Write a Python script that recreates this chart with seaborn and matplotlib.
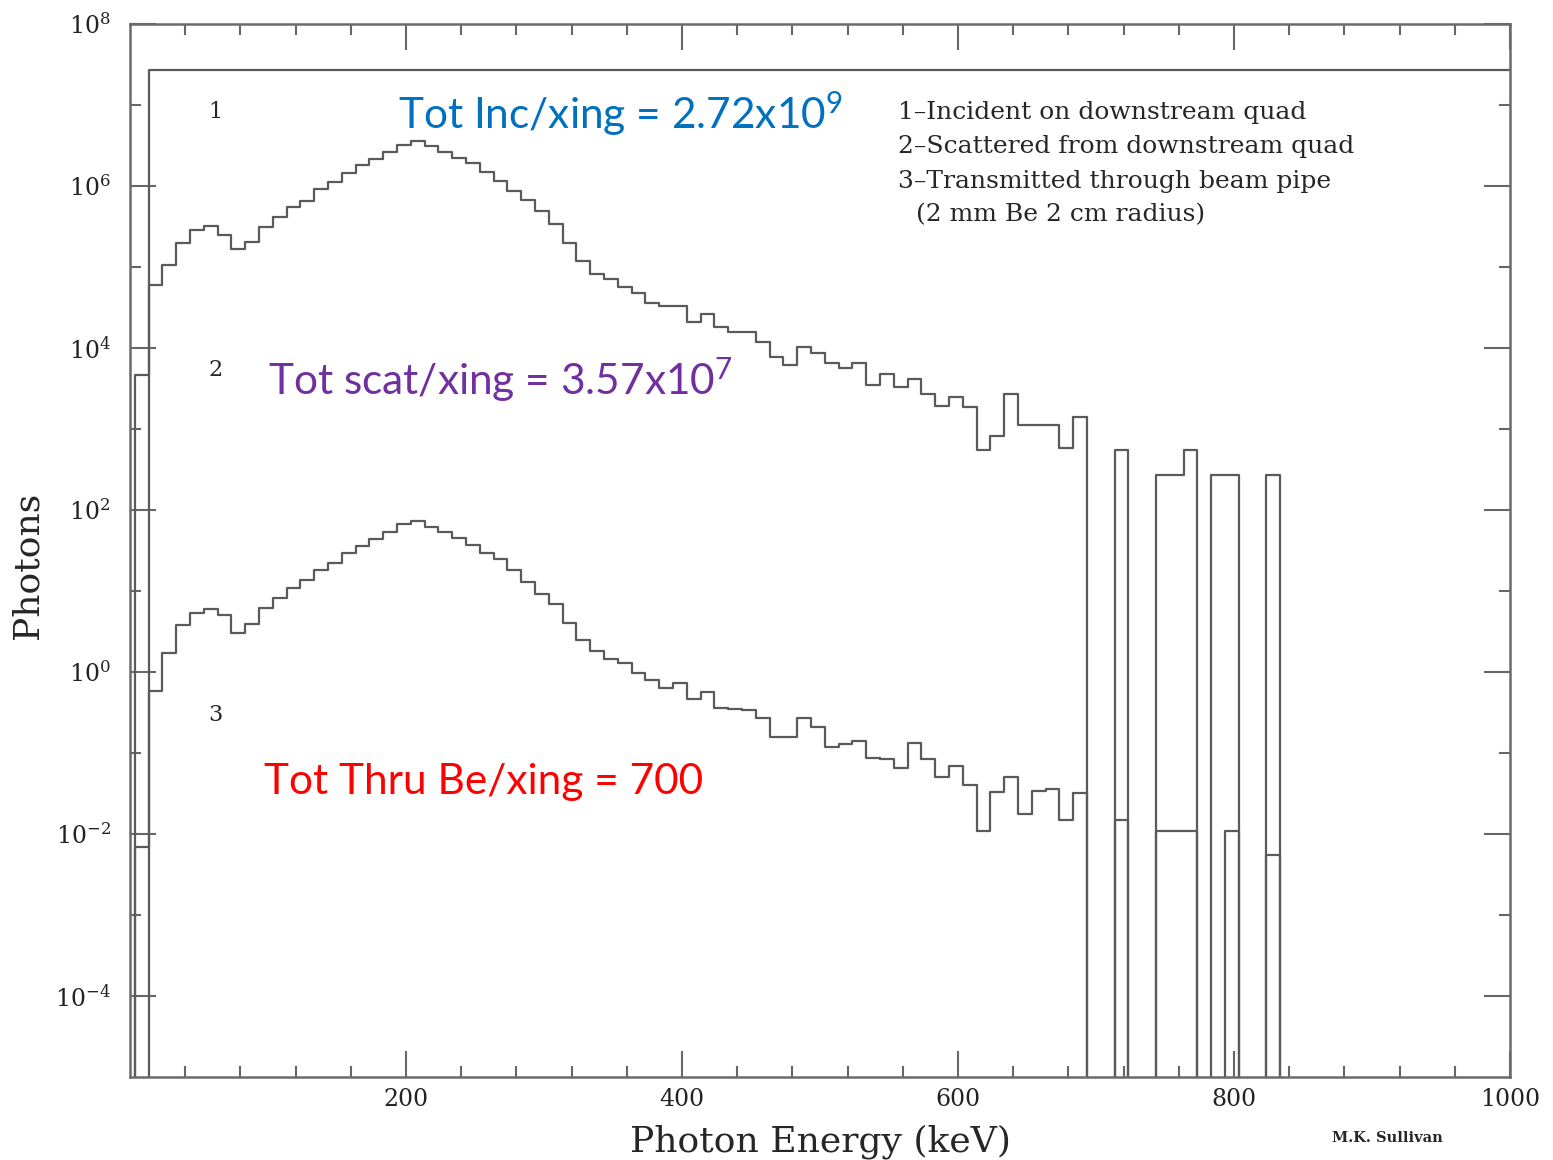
import numpy as np
import pandas as pd
import matplotlib.pyplot as plt
import seaborn as sns
from matplotlib.ticker import FixedLocator, NullFormatter, LogFormatterMathtext

# 10 keV bins; first edge at ~3.5 keV, one empty bin added on the left
bin_edges = np.arange(-6.5, 1010, 10)
bin_centers = bin_edges[:-1] + 5

# photons per bin (first entry is the padding bin)
incident = [0.0, 0.0] + [2.72e7] * 99

scattered = [0.0,
             4.6e3, 6.0e4, 1.06e5, 1.98e5, 2.86e5, 3.21e5, 2.48e5, 1.67e5, 2.04e5, 3.12e5,
             4.14e5, 5.5e5, 6.53e5, 9.18e5, 1.12e6, 1.45e6, 1.82e6, 2.15e6, 2.63e6, 3.21e6,
             3.6e6, 3.12e6, 2.63e6, 2.22e6, 1.92e6, 1.49e6, 1.15e6, 8.7e5, 6.7e5, 4.9e5,
             3.4e5, 1.98e5, 1.19e5, 8.2e4, 7.1e4, 5.7e4, 4.8e4, 3.6e4, 3.3e4, 3.3e4,
             2.1e4, 2.6e4, 1.8e4, 1.58e4, 1.58e4, 1.19e4, 7.7e3, 6.2e3, 1.03e4, 8.7e3,
             6.5e3, 5.7e3, 6.5e3, 3.5e3, 4.8e3, 3.3e3, 4.1e3, 2.7e3, 1.92e3, 2.5e3,
             1.87e3, 5.5e2, 8.2e2, 2.7e3, 1.12e3, 1.12e3, 1.12e3, 5.8e2, 1.41e3, 0.0,
             0.0, 5.5e2, 0.0, 0.0, 2.7e2, 2.7e2, 5.5e2, 0.0, 2.7e2, 2.7e2,
             0.0, 0.0, 2.7e2, 0.0, 0.0, 0.0, 0.0, 0.0, 0.0, 0.0,
             0.0, 0.0, 0.0, 0.0, 0.0, 0.0, 0.0, 0.0, 0.0, 0.0]

transmitted = [0.0,
               6.9e-3, 0.58, 1.72, 3.8, 5.3, 6.0, 5.1, 3.0, 3.9, 6.2,
               8.2, 10.9, 13.7, 18.2, 22.2, 29.5, 36.0, 44.0, 53.0, 67.0,
               73.0, 62.0, 53.0, 45.0, 37.0, 29.5, 25.0, 18.0, 13.0, 9.2,
               7.0, 4.0, 2.5, 1.8, 1.45, 1.29, 0.97, 0.80, 0.63, 0.73,
               0.46, 0.57, 0.36, 0.35, 0.34, 0.27, 0.158, 0.158, 0.27, 0.21,
               0.119, 0.129, 0.141, 0.087, 0.084, 0.065, 0.133, 0.084, 0.051, 0.069,
               0.040, 0.0109, 0.033, 0.051, 0.0177, 0.034, 0.036, 0.0149, 0.032, 0.0,
               0.0, 0.0149, 0.0, 0.0, 0.0109, 0.0109, 0.0109, 0.0, 0.0, 0.0109,
               0.0, 0.0, 0.0055, 0.0, 0.0, 0.0, 0.0, 0.0, 0.0, 0.0,
               0.0, 0.0, 0.0, 0.0, 0.0, 0.0, 0.0, 0.0, 0.0, 0.0]

sns.set_style("ticks")
plt.rcParams["font.family"] = ["DejaVu Serif"]

fig = plt.figure(figsize=(15.53, 11.6), dpi=100)
ax = fig.add_axes([130 / 1553, 1 - 1077 / 1160, 1380 / 1553, 1053 / 1160])
ax.set_yscale("log")

line_col = "#5a5a5a"
for vals in (incident, scattered, transmitted):
    df = pd.DataFrame({"energy": bin_centers, "photons": vals})
    sns.histplot(data=df, x="energy", weights="photons", bins=bin_edges.tolist(), element="step",
                 fill=False, color=line_col, linewidth=1.6, ax=ax)

ax.set_xlim(0, 1000)
ax.set_ylim(1e-5, 1e8)

# ticks inside, on every side
ax.xaxis.set_major_locator(FixedLocator([200, 400, 600, 800, 1000]))
ax.xaxis.set_minor_locator(FixedLocator(np.arange(40, 1000, 40)))
ax.yaxis.set_major_locator(FixedLocator([1e-4, 1e-2, 1e0, 1e2, 1e4, 1e6, 1e8]))
ax.yaxis.set_minor_locator(FixedLocator([1e-3, 1e-1, 1e1, 1e3, 1e5, 1e7]))
ax.yaxis.set_major_formatter(LogFormatterMathtext())
ax.yaxis.set_minor_formatter(NullFormatter())
ax.tick_params(which="both", direction="in", top=True, right=True, color="#666666", width=1.5)
ax.tick_params(which="major", length=19, labelsize=17, labelcolor="#222222")
ax.tick_params(which="minor", length=8)
ax.tick_params(axis="y", pad=14)
ax.tick_params(axis="x", pad=8)
for s in ax.spines.values():
    s.set_color("#6a6a6a")
    s.set_linewidth(1.8)

ax.set_xlabel("Photon Energy (keV)", fontsize=26)
ax.set_ylabel("Photons", fontsize=26)
ax.xaxis.set_label_coords(0.5, -0.045)
ax.yaxis.set_label_coords(-0.062, 0.486)

# curve numbers
for lab, yf in (("1", 0.9164), ("2", 0.6714), ("3", 0.3438)):
    ax.text(0.0616, yf, lab, transform=ax.transAxes, fontsize=16, ha="center", va="center")

legend_lines = ["1\u2013Incident on downstream quad",
                "2\u2013Scattered from downstream quad",
                "3\u2013Transmitted through beam pipe"]
for txt, yf in zip(legend_lines, (0.9164, 0.8841, 0.8509)):
    ax.text(0.5565, yf, txt, transform=ax.transAxes, fontsize=18, va="center")
ax.text(0.5696, 0.8186, "(2 mm Be 2 cm radius)", transform=ax.transAxes, fontsize=18, va="center")

# totals per crossing
notes = [("Tot Inc/xing = 2.72x10$\\mathdefault{^{9}}$", 0.1942, 0.9145, "#0070C0"),
         ("Tot scat/xing = 3.57x10$\\mathdefault{^{7}}$", 0.1000, 0.662, "#7030A0"),
         ("Tot Thru Be/xing = 700", 0.0971, 0.280, "#FF0000")]
for txt, xf, yf, c in notes:
    ax.text(xf, yf, txt, transform=ax.transAxes, fontsize=30.5, color=c,
            family=["Lato", "DejaVu Sans"], va="center")

fig.text(1332 / 1553, 1 - 1138 / 1160, "M.K. Sullivan", fontsize=10.5, fontweight="bold", va="center")

fig.savefig("out.png", dpi=100)
